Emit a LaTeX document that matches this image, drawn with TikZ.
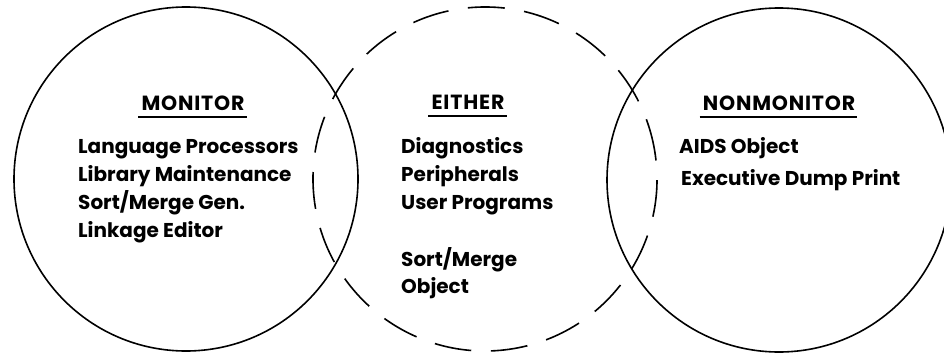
\documentclass[tikz,border=0pt]{standalone}
\usepackage{fontspec}
\newfontfamily\fut{Poppins}
\newfontfamily\futw{Poppins}[LetterSpace=4]
\begin{document}
\begin{tikzpicture}[x=1pt,y=-1pt,
  circ/.style={circle, draw, line width=1.6pt, minimum size=344pt, inner sep=0pt},
  dcirc/.style={circ, dash pattern=on 37pt off 19.6pt},
  lbl/.style={anchor=base west, inner sep=0pt, font=\fut\bfseries\fontsize{20}{24}\selectfont},
  ttl/.style={anchor=base, inner sep=0pt, font=\futw\bfseries\fontsize{20.5}{24}\selectfont},
  uline/.style={line width=1.4pt}]
\useasboundingbox (0,0) rectangle (944,353);
\clip (0,0) rectangle (944,353);
\node[circ] (L) at (186,179) {};
\node[dcirc, rotate=8] (E) at (485,179) {};
\node[circ] (R) at (779,180) {};
% titles
\node[ttl] (mon) at (193,110) {MONITOR};
\node[ttl] (eit) at (468,109) {EITHER};
\node[ttl] (non) at (779,110) {NONMONITOR};
\draw[uline] ([shift={(-3,7)}]mon.base west) -- ([shift={(2,7)}]mon.base east);
\draw[uline] ([shift={(-3,7)}]eit.base west) -- ([shift={(2,7)}]eit.base east);
\draw[uline] ([shift={(-3,7)}]non.base west) -- ([shift={(2,7)}]non.base east);
% monitor
\node[lbl] (m1) at (78,153) {Language Processors};
\node[lbl] (m2) at (78,181) {Library Maintenance};
\node[lbl] (m3) at (78,209) {Sort/Merge Gen.};
\node[lbl] (m4) at (78,237) {Linkage Editor};
% either
\node[lbl] (e1) at (401,153) {Diagnostics};
\node[lbl] (e2) at (401,181) {Peripherals};
\node[lbl] (e3) at (401,209) {User Programs};
\node[lbl] (e4) at (401,266) {Sort/Merge};
\node[lbl] (e5) at (401,293) {Object};
% nonmonitor
\node[lbl] (n1) at (679,153) {AIDS Object};
\node[lbl] (n2) at (681,185) {Executive Dump Print};
\end{tikzpicture}
\end{document}
